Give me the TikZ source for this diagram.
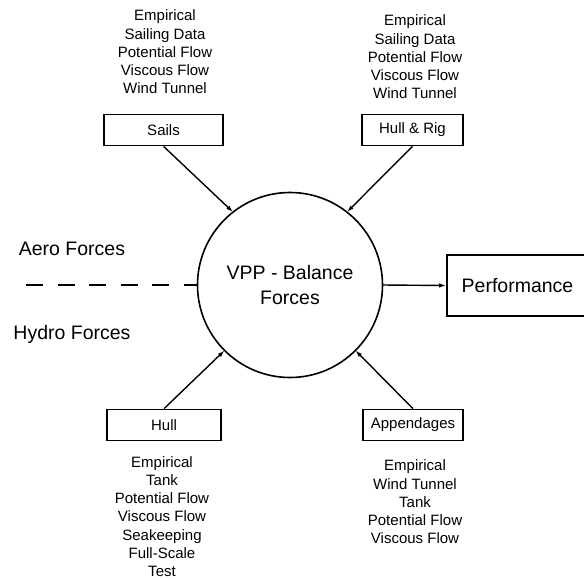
\documentclass[tikz,border=0pt]{standalone}
\usepackage{fontspec}
\setmainfont{Liberation Sans}
\usetikzlibrary{arrows.meta,positioning}

\begin{document}
\begin{tikzpicture}[
    x=1pt, y=-1pt,
    >={Latex[length=7pt, width=4.5pt]},
    line width=1.4pt,
    source/.style={
        rectangle, draw, line width=1.6pt,
        minimum height=31pt, inner sep=2pt,
        font=\fontsize{15}{18}\selectfont
    },
    methods/.style={
        align=center, inner sep=0pt,
        font=\fontsize{15}{18.2}\selectfont
    },
    bigtext/.style={font=\fontsize{19.5}{25}\selectfont}
]
    \useasboundingbox (0,0) rectangle (584,579);

    % VPP centre and result
    \node [circle, draw, line width=1.6pt, minimum size=185pt, outer sep=0pt,
           align=center, bigtext] (vpp) at (290,285) {VPP - Balance\\Forces};
    \node [source, bigtext, minimum width=141pt, minimum height=61pt] (perf) at (517.5,285.5) {Performance};

    % Force sources
    \node [source, minimum width=119pt] (sails) at (163.5,130) {Sails};
    \node [source, minimum width=101pt] (rig) at (412.5,130) {Hull \& Rig};
    \node [source, minimum width=114pt] (hull) at (164,425) {Hull};
    \node [source, minimum width=100pt] (app) at (413,425) {Appendages};

    % Methods
    \node [methods] (sailsdata) at (165,52) {Empirical\\Sailing Data\\Potential Flow\\Viscous Flow\\Wind Tunnel};
    \node [methods] (rigdata) at (415,57) {Empirical\\Sailing Data\\Potential Flow\\Viscous Flow\\Wind Tunnel};
    \node [methods] (hulldata) at (162,516.5) {Empirical\\Tank\\Potential Flow\\Viscous Flow\\Seakeeping\\Full-Scale\\Test};
    \node [methods] (appdata) at (415,502) {Empirical\\Wind Tunnel\\Tank\\Potential Flow\\Viscous Flow};

    % Aero / hydro split
    \node [bigtext] (aero) at (72,249) {Aero Forces};
    \node [bigtext] (hydro) at (72,334) {Hydro Forces};
    \coordinate (split) at (26,285);
    \draw [dash pattern=on 17pt off 14.5pt] (split) -- (vpp.west);

    % Arrows
    \draw [->] (sails.south) -- (vpp.128);
    \draw [->] (rig.south) -- (vpp.52);
    \draw [->] (hull.north) -- (vpp.225);
    \draw [->] (app.north) -- (vpp.315);
    \draw [->] (vpp.east) -- (perf.west);

\end{tikzpicture}
\end{document}
